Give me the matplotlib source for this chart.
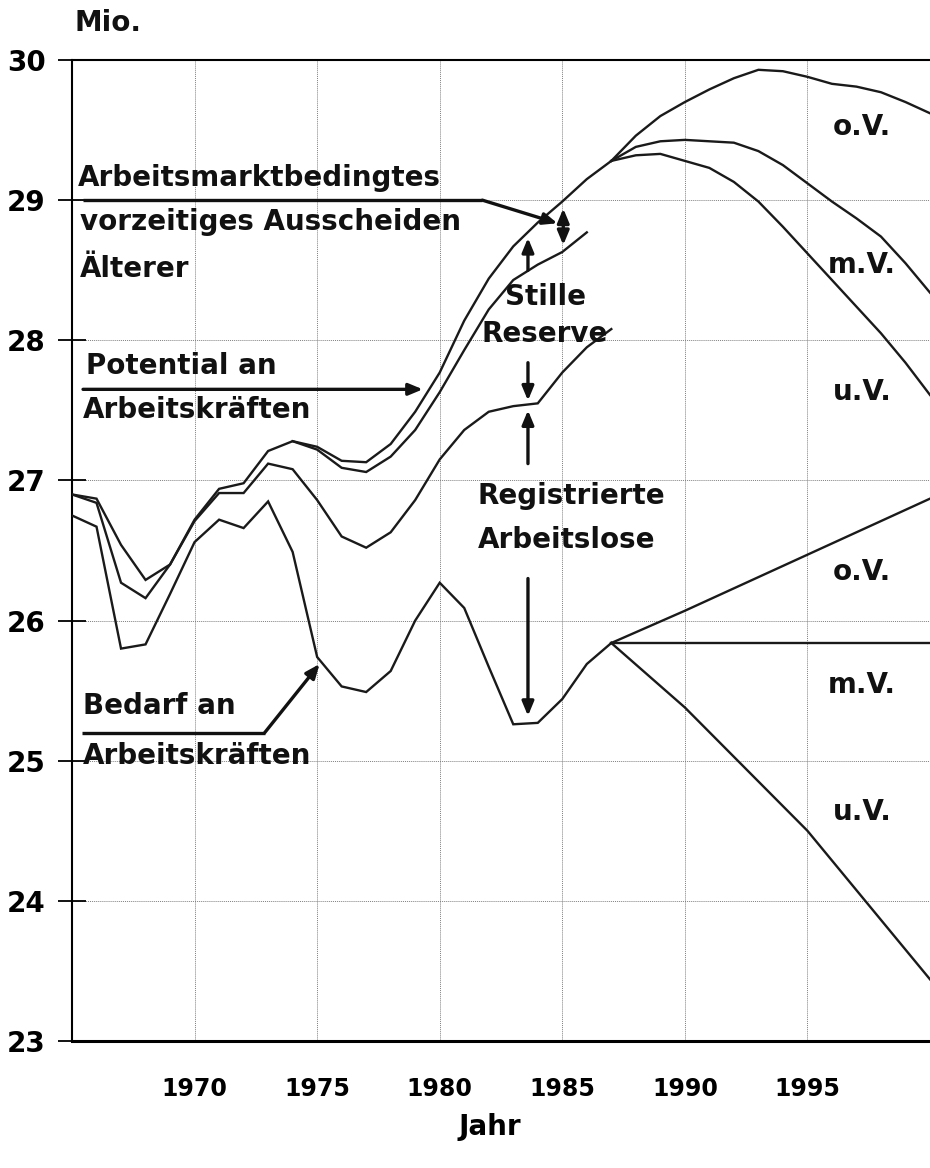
import matplotlib
matplotlib.use("Agg")
import matplotlib.pyplot as plt

plt.rcParams['font.family'] = ['DejaVu Sans']

years_hist = list(range(1965, 1988))
potential = [26.90, 26.87, 26.54, 26.29, 26.40, 26.72, 26.94, 26.98, 27.21, 27.28, 27.24, 27.14,
             27.13, 27.26, 27.49, 27.77, 28.14, 28.44, 28.67, 28.84, 28.99, 29.15, 29.28]
years_ohne = list(range(1974, 1987))
potential_ohne = [27.28, 27.22, 27.09, 27.06, 27.17, 27.36, 27.63, 27.93, 28.22, 28.43, 28.54, 28.63, 28.77]
erwerbspersonen = [26.90, 26.84, 26.27, 26.16, 26.40, 26.71, 26.91, 26.91, 27.12, 27.08, 26.86, 26.60,
                   26.52, 26.63, 26.86, 27.15, 27.36, 27.49, 27.53, 27.55, 27.77, 27.95, 28.08]
bedarf = [26.75, 26.67, 25.80, 25.83, 26.19, 26.56, 26.72, 26.66, 26.85, 26.49, 25.74, 25.53,
          25.49, 25.64, 26.00, 26.27, 26.09, 25.67, 25.26, 25.27, 25.44, 25.69, 25.84]

years_proj = list(range(1987, 2001))
pot_ov = [29.28, 29.46, 29.60, 29.70, 29.79, 29.87, 29.93, 29.92, 29.88, 29.83, 29.81, 29.77, 29.70, 29.62]
pot_mv = [29.28, 29.38, 29.42, 29.43, 29.42, 29.41, 29.35, 29.25, 29.12, 28.99, 28.87, 28.74, 28.55, 28.34]
pot_uv = [29.28, 29.32, 29.33, 29.28, 29.23, 29.13, 28.99, 28.81, 28.62, 28.43, 28.24, 28.05, 27.84, 27.61]

years_bed_proj = [1987, 1990, 1995, 2000]
bed_ov = [25.84, 26.07, 26.47, 26.87]
bed_mv = [25.84, 25.84, 25.84, 25.84]
bed_uv = [25.84, 25.38, 24.50, 23.44]

xticks = [1970, 1975, 1980, 1985, 1990, 1995]
yticks = [23, 24, 25, 26, 27, 28, 29, 30]

fig = plt.figure(figsize=(9.3, 11.68), dpi=100)
ax = fig.add_axes([72 / 930, 127 / 1168, 858 / 930, 981 / 1168])

lw = 1.7
for xs, ys in [(years_hist, potential), (years_ohne, potential_ohne), (years_hist, erwerbspersonen),
               (years_hist, bedarf), (years_proj, pot_ov), (years_proj, pot_mv), (years_proj, pot_uv),
               (years_bed_proj, bed_ov), (years_bed_proj, bed_mv), (years_bed_proj, bed_uv)]:
    ax.plot(xs, ys, color='#1a1a1a', lw=lw, solid_joinstyle='miter', zorder=3)

ax.set_xlim(1965, 2000)
ax.set_ylim(23, 30)
ax.set_xticks(xticks)
ax.set_yticks(yticks)
ax.grid(True, color='0.5', lw=0.7, linestyle=(0, (1, 1)), zorder=0)
ax.tick_params(axis='x', length=0, pad=26, labelsize=17)
ax.tick_params(axis='y', direction='inout', length=20, width=1.3, pad=9, labelsize=20)
for lab in ax.get_xticklabels() + ax.get_yticklabels():
    lab.set_fontweight('bold')
ax.spines['right'].set_visible(False)
for s in ['left', 'top', 'bottom']:
    ax.spines[s].set_linewidth(1.5)
ax.spines['bottom'].set_linewidth(2.2)

tkw = dict(fontsize=20, fontweight='bold', va='baseline', color='#111111', zorder=5)
ax.text(1965.12, 30.209, 'Mio.', clip_on=False, **tkw)
ax.text(1965.24, 29.103, 'Arbeitsmarktbedingtes', **tkw)
ax.text(1965.33, 28.787, 'vorzeitiges Ausscheiden', **tkw)
ax.text(1965.33, 28.454, 'Älterer', **tkw)
ax.text(1965.57, 27.759, 'Potential an', **tkw)
ax.text(1965.45, 27.449, 'Arbeitskräften', **tkw)
ax.text(1965.45, 25.333, 'Bedarf an', **tkw)
ax.text(1965.45, 24.977, 'Arbeitskräften', **tkw)
ax.text(1984.31, 28.252, 'Stille', ha='center', **tkw)
ax.text(1984.27, 27.99, 'Reserve', ha='center', **tkw)
ax.text(1981.54, 26.832, 'Registrierte', **tkw)
ax.text(1981.54, 26.515, 'Arbeitslose', **tkw)
for y, s in [(29.465, 'o.V.'), (28.478, 'm.V.'), (27.574, 'u.V.'),
             (26.289, 'o.V.'), (25.481, 'm.V.'), (24.577, 'u.V.')]:
    ax.text(1997.22, y, s, ha='center', **tkw)

fig.text(490 / 930, 1 - 1127 / 1168, 'Jahr', ha='center', va='center', fontsize=20, fontweight='bold')

# Hinweislinien und Pfeile
aw = 2.4
arr = dict(arrowstyle='-|>,head_length=0.6,head_width=0.25', mutation_scale=14,
           color='#111111', lw=aw, shrinkA=0, shrinkB=0)
dbl = dict(arr, arrowstyle='<|-|>,head_length=0.6,head_width=0.25')

ax.plot([1965.45, 1981.74], [29.0, 29.0], color='#111111', lw=aw, zorder=4, solid_capstyle='butt')
ax.annotate('', xy=(1984.8, 28.835), xytext=(1981.74, 29.0), arrowprops=arr, zorder=4)
ax.annotate('', xy=(1979.31, 27.65), xytext=(1965.45, 27.65), arrowprops=arr, zorder=4)
ax.plot([1965.4, 1972.86], [25.20, 25.20], color='#111111', lw=aw, zorder=4, solid_capstyle='butt')
ax.annotate('', xy=(1975.1, 25.69), xytext=(1972.86, 25.20), arrowprops=arr, zorder=4)

ax.annotate('', xy=(1985.04, 28.94), xytext=(1985.04, 28.68), arrowprops=dbl, zorder=4)
ax.annotate('', xy=(1983.6, 28.73), xytext=(1983.6, 28.50), arrowprops=arr, zorder=4)
ax.annotate('', xy=(1983.6, 27.57), xytext=(1983.6, 27.84), arrowprops=arr, zorder=4)
ax.annotate('', xy=(1983.6, 27.50), xytext=(1983.6, 27.12), arrowprops=arr, zorder=4)
ax.annotate('', xy=(1983.6, 25.32), xytext=(1983.6, 26.30), arrowprops=arr, zorder=4)

fig.savefig('out.png', dpi=100)
